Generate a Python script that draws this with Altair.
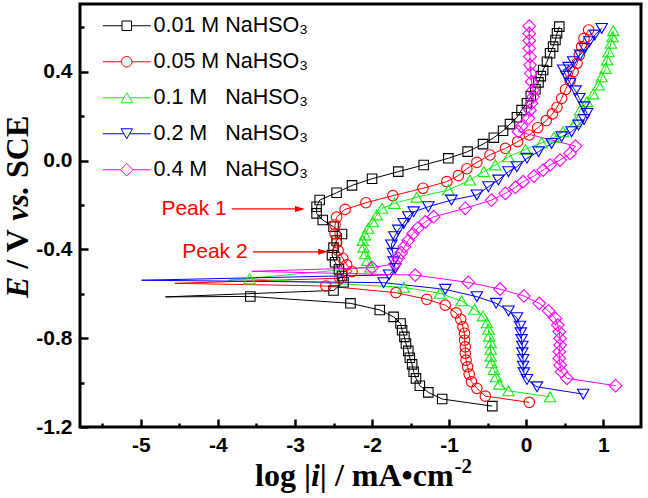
import altair as alt
import pandas as pd

# ---------------- data ----------------
SERIES = ["0.01 M NaHSO\u2083", "0.05 M NaHSO\u2083",
          "0.1 M\u00a0\u00a0\u00a0NaHSO\u2083", "0.2 M\u00a0\u00a0\u00a0NaHSO\u2083",
          "0.4 M\u00a0\u00a0\u00a0NaHSO\u2083"]
COLORS = ["#000000", "#ff0000", "#11ee11", "#0000ff", "#ff00ff"]

# 0.01 M
k_cat_L = [-0.44, -1.09, -1.27, -1.38, -1.43, -1.46, -1.48, -1.51, -1.53, -1.56, -1.58, -1.61, -1.63, -1.72, -1.90, -2.28, -3.58]
k_cat_E = [-1.106, -1.074, -1.044, -1.014, -0.981, -0.951, -0.918, -0.888, -0.857, -0.824, -0.794, -0.764, -0.734, -0.704, -0.673, -0.643, -0.612]
k_spike = [-4.68, -0.614]
k_an_L = [-2.50, -2.37, -2.39, -2.43, -2.48, -2.52, -2.50, -2.46, -2.39, -2.50, -2.64, -2.72, -2.72, -2.68, -2.46, -2.26, -2.00, -1.66, -1.33, -1.01,
          -0.76, -0.56, -0.42, -0.30, -0.21, -0.12, -0.06, 0.01, 0.06, 0.12, 0.16, 0.19, 0.22, 0.27, 0.31, 0.35, 0.38, 0.40, 0.43]
k_an_E = [-0.585, -0.548, -0.520, -0.490, -0.458, -0.426, -0.392, -0.360, -0.331, -0.298, -0.268, -0.238, -0.208, -0.178, -0.145, -0.112, -0.082, -0.050, -0.020, 0.010,
          0.040, 0.074, 0.103, 0.134, 0.164, 0.195, 0.227, 0.258, 0.290, 0.321, 0.352, 0.380, 0.408, 0.445, 0.483, 0.513, 0.543, 0.573, 0.603]

# 0.05 M
r_cat_L = [0.04, -0.53, -0.64, -0.71, -0.74, -0.76, -0.78, -0.79, -0.79, -0.80, -0.80, -0.82, -0.85, -0.91, -1.05, -1.29, -1.69, -2.60]
r_cat_E = [-1.089, -1.061, -1.026, -0.996, -0.962, -0.929, -0.899, -0.868, -0.839, -0.809, -0.778, -0.749, -0.715, -0.686, -0.651, -0.625, -0.595, -0.565]
r_spike = [-4.56, -0.553]
r_an_L = [-2.42, -2.26, -2.33, -2.38, -2.44, -2.46, -2.48, -2.48, -2.46, -2.35, -2.08, -1.73, -1.34, -1.03, -0.88, -0.77, -0.64, -0.47, -0.27, -0.11,
          0.04, 0.15, 0.26, 0.34, 0.40, 0.46, 0.51, 0.57, 0.61, 0.66, 0.69, 0.72, 0.75, 0.81]
r_an_E = [-0.530, -0.500, -0.470, -0.440, -0.405, -0.370, -0.330, -0.290, -0.255, -0.220, -0.190, -0.158, -0.125, -0.095, -0.068, -0.037, -0.008, 0.025, 0.055, 0.085,
          0.115, 0.148, 0.180, 0.210, 0.240, 0.280, 0.320, 0.360, 0.400, 0.438, 0.475, 0.513, 0.550, 0.588]

# 0.1 M
g_cat_L = [0.31, -0.23, -0.35, -0.39, -0.42, -0.45, -0.46, -0.46, -0.46, -0.48, -0.49, -0.51, -0.56, -0.67, -0.84, -1.12, -1.59, -3.59]
g_cat_E = [-1.064, -1.037, -1.007, -0.974, -0.941, -0.911, -0.881, -0.850, -0.821, -0.791, -0.760, -0.731, -0.700, -0.670, -0.632, -0.598, -0.571, -0.533]
g_spike = [-3.86, -0.539]
g_an_L = [-2.02, -2.06, -2.09, -2.11, -2.12, -2.09, -2.05, -1.99, -1.94, -1.87, -1.71, -1.42, -1.01, -0.73, -0.55, -0.40, -0.23, -0.01, 0.20, 0.36,
          0.48, 0.64, 0.70, 0.79, 0.87, 0.94, 0.98, 1.03, 1.05, 1.07, 1.10, 1.12, 1.13]
g_an_E = [-0.480, -0.450, -0.420, -0.390, -0.360, -0.335, -0.305, -0.276, -0.245, -0.215, -0.193, -0.165, -0.133, -0.088, -0.050, -0.020, 0.017, 0.050, 0.080, 0.105,
          0.130, 0.175, 0.227, 0.265, 0.300, 0.340, 0.377, 0.415, 0.453, 0.490, 0.528, 0.557, 0.585]

# 0.2 M
b_cat_L = [0.74, 0.14, 0.01, -0.03, -0.04, -0.04, -0.05, -0.05, -0.06, -0.07, -0.08, -0.12, -0.23, -0.39, -0.64, -1.05, -1.85]
b_cat_E = [-1.052, -1.019, -0.986, -0.956, -0.926, -0.896, -0.866, -0.836, -0.806, -0.776, -0.746, -0.708, -0.677, -0.643, -0.613, -0.580, -0.550]
b_spike = [-4.99, -0.539]
b_an_L = [-1.78, -1.70, -1.72, -1.73, -1.75, -1.71, -1.66, -1.59, -1.53, -1.46, -1.27, -0.97, -0.64, -0.49, -0.36, -0.23, -0.12, 0.01, 0.16, 0.33,
          0.46, 0.59, 0.68, 0.75, 0.79, 0.75, 0.69, 0.64, 0.57, 0.52, 0.48, 0.55, 0.61, 0.70, 0.76, 0.82, 0.89, 0.98]
b_an_E = [-0.515, -0.486, -0.456, -0.418, -0.380, -0.343, -0.313, -0.283, -0.253, -0.231, -0.208, -0.178, -0.155, -0.118, -0.088, -0.050, -0.028, 0.010, 0.040, 0.077,
          0.107, 0.130, 0.160, 0.185, 0.212, 0.242, 0.280, 0.314, 0.348, 0.380, 0.408, 0.420, 0.445, 0.475, 0.505, 0.535, 0.565, 0.595]

# 0.4 M
m_cat_L = [1.16, 0.53, 0.46, 0.44, 0.43, 0.43, 0.44, 0.44, 0.43, 0.41, 0.38, 0.29, 0.17, -0.03, -0.34, -0.75, -1.44]
m_cat_E = [-1.014, -0.981, -0.951, -0.921, -0.891, -0.861, -0.831, -0.801, -0.771, -0.741, -0.711, -0.677, -0.643, -0.610, -0.579, -0.549, -0.516]
m_spike = [-3.56, -0.499]
m_an_L = [-2.00, -1.70, -1.66, -1.62, -1.58, -1.53, -1.47, -1.41, -1.31, -1.20, -0.79, -0.45, -0.27, -0.14, -0.04, 0.10, 0.22, 0.31, 0.44, 0.57,
          0.64, -0.10, -0.06, 0.03, 0.05, 0.07, 0.09, 0.09, 0.07, 0.06, 0.05, 0.05, 0.04, 0.04, 0.04, 0.04]
m_an_E = [-0.482, -0.465, -0.440, -0.415, -0.388, -0.360, -0.330, -0.305, -0.276, -0.253, -0.215, -0.178, -0.148, -0.121, -0.095, -0.070, -0.043, -0.020, 0.002, 0.032,
          0.065, 0.130, 0.155, 0.190, 0.227, 0.258, 0.287, 0.317, 0.355, 0.393, 0.430, 0.468, 0.505, 0.540, 0.572, 0.605]

CURVES = [(k_cat_L, k_cat_E, k_spike, k_an_L, k_an_E),
          (r_cat_L, r_cat_E, r_spike, r_an_L, r_an_E),
          (g_cat_L, g_cat_E, g_spike, g_an_L, g_an_E),
          (b_cat_L, b_cat_E, b_spike, b_an_L, b_an_E),
          (m_cat_L, m_cat_E, m_spike, m_an_L, m_an_E)]

# annotations
peak_text = ["Peak 1", "Peak 2"]
peak_start = [-3.82, -3.55]
peak_tip = [-2.87, -2.57]
peak_E = [-0.218, -0.411]

# axis ticks
x_major_ticks = [-5, -4, -3, -2, -1, 0, 1]
x_minor_ticks = [-5.5, -4.5, -3.5, -2.5, -1.5, -0.5, 0.5]
y_major_ticks = [-1.2, -0.8, -0.4, 0.0, 0.4]
y_minor_ticks = [-1.0, -0.6, -0.2, 0.2, 0.6]

# axis title pieces (mixed upright / italic)
x_title_parts = ["log |", "i", "| / mA\u2022cm", "-2"]
y_title_parts = ["E", "/ V", "vs.", "SCE"]

# ---------------- build table ----------------
rows = []
for s, (cL, cE, sp, aL, aE) in zip(SERIES, CURVES):
    i = 0
    for L, E in zip(cL, cE):
        rows.append(dict(series=s, L=L, E=E, idx=i, marker=1)); i += 1
    rows.append(dict(series=s, L=sp[0], E=sp[1], idx=i, marker=0)); i += 1
    for L, E in zip(aL, aE):
        rows.append(dict(series=s, L=L, E=E, idx=i, marker=1)); i += 1
df = pd.DataFrame(rows)
peaks = pd.DataFrame(dict(text=peak_text, start=peak_start, tip=peak_tip, E=peak_E))

SANS = "Arial, Liberation Sans"
SERIF = "Times New Roman, Liberation Serif"

xscale = alt.Scale(domain=[-5.79, 1.49], nice=False, zero=False)
yscale = alt.Scale(domain=[-1.2, 0.705], nice=False, zero=False)

x_axis = alt.Axis(orient="bottom", values=x_major_ticks, title=None,
                  labelExpr="replace(format(datum.value, 'd'), '\u2212', '-')",
                  tickSize=alt.ExprRef("-8"), labelPadding=15, grid=False, domain=False)
y_axis = alt.Axis(orient="left", values=y_major_ticks, title=None,
                  labelExpr="replace(format(datum.value, '.1f'), '\u2212', '-')",
                  tickSize=alt.ExprRef("-8"), labelPadding=16, grid=False, domain=False)
x_axis_minor = alt.Axis(orient="bottom", values=x_minor_ticks, tickSize=alt.ExprRef("-4"),
                        labels=False, title=None, grid=False, domain=False)
y_axis_minor = alt.Axis(orient="left", values=y_minor_ticks, tickSize=alt.ExprRef("-4"),
                        labels=False, title=None, grid=False, domain=False)

base = alt.Chart(df)
X = lambda ax=None: alt.X("L:Q", scale=xscale, axis=ax)
Y = lambda ax=None: alt.Y("E:Q", scale=yscale, axis=ax)

axes_major = base.transform_filter("false").mark_point().encode(x=X(x_axis), y=Y(y_axis))
axes_minor = base.transform_filter("false").mark_point().encode(x=X(x_axis_minor), y=Y(y_axis_minor))

SHAPES = ["square", "circle", "triangle-up", "triangle-down", "diamond"]
SIZES = [90, 110, 130, 130, 160]
line_layers, point_layers = [], []
for s, c, shp, sz in zip(SERIES, COLORS, SHAPES, SIZES):
    sub = base.transform_filter(alt.datum.series == s)
    line_layers.append(sub.mark_line(strokeWidth=1, color=c, interpolate="linear")
                       .encode(x=X(), y=Y(), order="idx:Q"))
    point_layers.append(sub.transform_filter(alt.datum.marker == 1)
                        .mark_point(shape=shp, size=sz, filled=False, strokeWidth=1.1, opacity=1, color=c)
                        .encode(x=X(), y=Y()))

# legend: line + marker glyphs
LEG_PATHS = [
    "M-4.8,0H-0.95M0.95,0H4.8M-0.95,-0.95H0.95V0.95H-0.95Z",
    "M-4.8,0H-1.05M1.05,0H4.8M-1.05,0A1.05,1.05,0,1,0,1.05,0A1.05,1.05,0,1,0,-1.05,0Z",
    "M-4.8,0H-0.6M0.6,0H4.8M0,-1.0L-1.15,1.0L1.15,1.0Z",
    "M-4.8,0H-0.6M0.6,0H4.8M0,1.0L-1.15,-1.0L1.15,-1.0Z",
    "M-4.8,0H-1.25M1.25,0H4.8M-1.25,0L0,-1.25L1.25,0L0,1.25Z",
]
leg = alt.Legend(title=None, orient="none", legendX=17, legendY=11, padding=0,
                 labelFont=SANS, labelFontSize=21.5, labelColor="black", labelLimit=400,
                 symbolSize=100, symbolStrokeWidth=1, symbolOffset=19, labelOffset=16,
                 rowPadding=13)
legend_layer = base.transform_filter("false").mark_point(filled=False, opacity=1).encode(
    color=alt.Color("series:N", scale=alt.Scale(domain=SERIES, range=COLORS), legend=leg),
    shape=alt.Shape("series:N", scale=alt.Scale(domain=SERIES, range=LEG_PATHS), legend=leg),
)

pbase = alt.Chart(peaks)
arrows = pbase.transform_calculate(end="datum.tip - 0.1").mark_rule(color="#ff0000", strokeWidth=1.2).encode(
    x=alt.X("start:Q", scale=xscale, axis=None), x2="end:Q", y=alt.Y("E:Q", scale=yscale, axis=None))
heads = pbase.transform_calculate(h="datum.tip - 0.065").mark_point(
    shape="M1,0L-1,-0.6L-1,0.6Z", size=100, filled=True, color="#ff0000", opacity=1).encode(
    x=alt.X("h:Q", scale=xscale, axis=None), y=alt.Y("E:Q", scale=yscale, axis=None))
ptext = pbase.mark_text(align="right", baseline="middle", dx=-5, font=SANS, fontSize=21, color="#ff0000").encode(
    x=alt.X("start:Q", scale=xscale, axis=None), y=alt.Y("E:Q", scale=yscale, axis=None), text="text:N")

# axis titles, assembled from upright and italic pieces (Times metrics, 1/1000 em)
one = alt.Chart(pd.DataFrame({"k": [0]}))
XT_FS, XT_SUP, YT_FS = 32, 21, 32
xt_w = [1748 * XT_FS / 1000, 278 * XT_FS / 1000, 4180 * XT_FS / 1000]
xt_x0 = 175
xt_pos = [xt_x0, xt_x0 + xt_w[0], xt_x0 + xt_w[0] + xt_w[1], xt_x0 + sum(xt_w) + 1]
xt_base = 482
title_layers = []
for part, px, it, fs, dy in zip(x_title_parts, xt_pos, [False, True, False, False],
                                [XT_FS, XT_FS, XT_FS, XT_SUP], [0, 0, 0, -13]):
    title_layers.append(one.mark_text(
        text=part, align="left", baseline="alphabetic", font=SERIF, fontSize=fs, fontWeight="bold",
        fontStyle="italic" if it else "normal", color="black", clip=False
    ).encode(x=alt.value(px), y=alt.value(xt_base + dy)))

sp = 250 * YT_FS / 1000
yt_w = [667 * YT_FS / 1000, 1250 * YT_FS / 1000, 1083 * YT_FS / 1000]
yt_y0 = 294
yt_pos = [yt_y0,
          yt_y0 - yt_w[0] - sp,
          yt_y0 - yt_w[0] - yt_w[1] - 2 * sp,
          yt_y0 - yt_w[0] - yt_w[1] - yt_w[2] - 3 * sp]
for part, py, it in zip(y_title_parts, yt_pos, [True, False, True, False]):
    title_layers.append(one.mark_text(
        text=part, align="left", baseline="alphabetic", angle=270, font=SERIF, fontSize=YT_FS,
        fontWeight="bold", fontStyle="italic" if it else "normal", color="black", clip=False
    ).encode(x=alt.value(-52), y=alt.value(py)))

chart = alt.layer(axes_major, axes_minor, *line_layers, *point_layers, arrows, heads, ptext,
                  legend_layer, *title_layers).resolve_axis(
    x="independent", y="independent"
).properties(
    width=561, height=423, autosize="none",
    padding={"left": 80, "top": 4, "right": 7, "bottom": 71},
).configure_view(stroke="black", strokeWidth=3).configure_axis(
    labelFont=SANS, labelFontSize=21, labelFontWeight="bold", labelColor="black",
    tickColor="black", tickWidth=2.5,
)

chart.save("out.html", embed_options={"renderer": "svg", "actions": False})
